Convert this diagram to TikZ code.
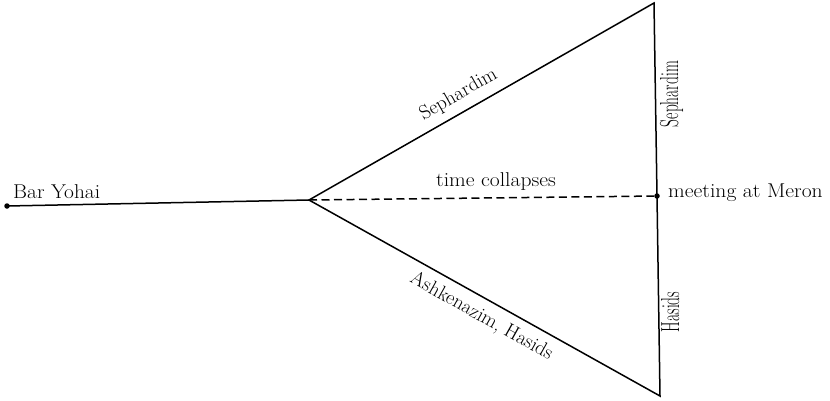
\documentclass[tikz,border=0pt]{standalone}
\begin{document}
\begin{tikzpicture}[x=1pt,y=-1pt,
  lbl/.style={font=\fontsize{20}{22}\selectfont, inner sep=0pt},
  edge/.style={line width=1.5pt},
  dotnode/.style={circle, fill=black, inner sep=0pt, minimum size=5.5pt}]
\useasboundingbox (0,0) rectangle (830,400);
\node[dotnode] (by) at (7,206) {};
\coordinate (br) at (309,200);
\coordinate (top) at (654,3);
\coordinate (bot) at (660,396);
\node[dotnode] (mer) at (657,196) {};
\draw[edge] (by.center) -- (br);
\draw[edge, line join=miter] (br) -- (top) -- (mer.center) -- (bot) -- cycle;
\draw[edge, dash pattern=on 8pt off 4.5pt] (br) -- (mer);
\node[lbl, anchor=base west] (tby) at (13,198) {\scalebox{1.07}[1]{Bar Yohai}};
\node[lbl, anchor=base] (tc) at (496,186) {\scalebox{1.08}[1]{time collapses}};
\node[lbl, anchor=base west] (tm) at (668,197) {\scalebox{1.08}[1]{meeting at Meron}};
\node[lbl, rotate=29.7, anchor=base] (ts1) at (461,99) {Sephardim};
\node[lbl, rotate=-29.2, anchor=base] (tah) at (479,321) {Ashkenazim, Hasids};
\node[lbl, rotate=90, anchor=base] (ts2) at (678,94) {\scalebox{0.77}[1.3]{Sephardim}};
\node[lbl, rotate=90, anchor=base] (th) at (679,312) {\scalebox{0.77}[1.3]{Hasids}};
\end{tikzpicture}
\end{document}
